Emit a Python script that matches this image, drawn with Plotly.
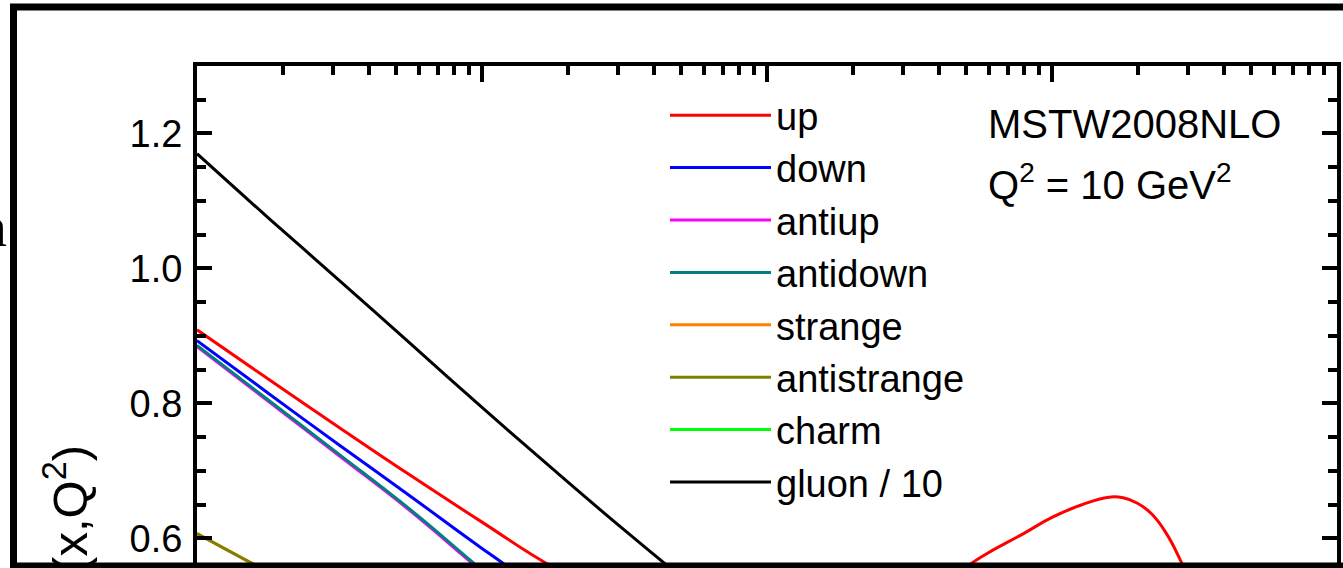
import plotly.graph_objects as go

# ---------------- data ----------------
x_grid = [0.0001, 0.0001778, 0.0003162, 0.0005623, 0.001, 0.001778, 0.003162,
          0.005623, 0.01, 0.03, 0.1, 0.3, 1.0]

gluon_over_10 = [1.170, 1.075, 0.982, 0.888, 0.794, 0.702, 0.612, 0.525, 0.440,
                 0.30, 0.16, 0.04, 0.0]
down = [0.893, 0.815, 0.738, 0.662, 0.585, 0.512, 0.445, 0.390, 0.345,
        0.31, 0.33, 0.25, 0.0]
antidown = [0.886, 0.805, 0.724, 0.642, 0.553, 0.468, 0.385, 0.310, 0.250,
            0.15, 0.07, 0.01, 0.0]
antiup = [0.884, 0.803, 0.722, 0.640, 0.551, 0.466, 0.383, 0.307, 0.246,
          0.145, 0.06, 0.008, 0.0]
strange = [0.607, 0.550, 0.495, 0.442, 0.392, 0.345, 0.300, 0.258, 0.220,
           0.13, 0.05, 0.01, 0.0]
antistrange = [0.607, 0.550, 0.495, 0.442, 0.392, 0.345, 0.300, 0.258, 0.220,
               0.13, 0.05, 0.01, 0.0]
charm = [0.450, 0.410, 0.365, 0.322, 0.280, 0.240, 0.200, 0.165, 0.130,
         0.06, 0.02, 0.002, 0.0]

x_up = [0.0001, 0.0001778, 0.0003162, 0.0005623, 0.001, 0.001778, 0.003162,
        0.005623, 0.01, 0.01778, 0.03162, 0.05623, 0.07943, 0.1, 0.1259,
        0.1585, 0.1778, 0.1995, 0.2239, 0.2512, 0.2818, 0.3162, 0.3981,
        0.5012, 1.0]
up = [0.909, 0.836, 0.764, 0.693, 0.624, 0.557, 0.505, 0.475, 0.462, 0.468,
      0.500, 0.572, 0.607, 0.631, 0.649, 0.661, 0.660, 0.652, 0.636, 0.608,
      0.568, 0.520, 0.410, 0.300, 0.0]

series = [
    ("up", x_up, up, "#FF0000"),
    ("down", x_grid, down, "#0000FF"),
    ("antiup", x_grid, antiup, "#FF00FF"),
    ("antidown", x_grid, antidown, "#008080"),
    ("strange", x_grid, strange, "#FF8000"),
    ("antistrange", x_grid, antistrange, "#808000"),
    ("charm", x_grid, charm, "#00FF00"),
    ("gluon / 10", x_grid, gluon_over_10, "#000000"),
]

y_ticks = [0.6, 0.8, 1.0, 1.2]
y_ticklabels = ["0.6", "0.8", "1.0", "1.2"]

# ---------------- figure ----------------
W, H = 1343, 568
L, R, T, B = 197, 6, 66, 0
PW, PH = W - L - R, H - T - B


def px(xp):
    return (xp - L) / PW


def py(yp):
    return (H - B - yp) / PH


FONT = "Arial, Liberation Sans, sans-serif"

fig = go.Figure()
for name, xs, ys, col in series:
    fig.add_trace(go.Scatter(x=xs, y=ys, mode="lines", name=name,
                             line=dict(color=col, width=3, shape="spline",
                                       smoothing=1.3)))

fig.update_layout(
    width=W, height=H,
    margin=dict(l=L, r=R, t=T, b=B, autoexpand=False),
    paper_bgcolor="white", plot_bgcolor="white",
    font=dict(family=FONT, color="black"),
    showlegend=True,
    legend=dict(x=px(665), y=py(84), xanchor="left", yanchor="top",
                font=dict(family=FONT, size=38, color="black"),
                bgcolor="rgba(0,0,0,0)", borderwidth=0,
                itemwidth=101, tracegroupgap=0),
    xaxis=dict(type="log", range=[-4, 0], side="top", showline=True,
               linecolor="black", linewidth=4, mirror=False,
               ticks="inside", ticklen=16, tickwidth=4, tickcolor="black",
               dtick=1, showticklabels=False, showgrid=False, zeroline=False,
               minor=dict(ticks="inside", ticklen=9, tickwidth=4,
                          tickcolor="black", dtick="D1", showgrid=False)),
    yaxis=dict(range=[0.556, 1.3], showline=True, linecolor="black",
               linewidth=4, mirror="ticks", ticks="inside", ticklen=15,
               tickwidth=4, tickcolor="black", tickvals=y_ticks,
               ticktext=y_ticklabels, showgrid=False, zeroline=False,
               ticklabelstandoff=3,
               tickfont=dict(family=FONT, size=38, color="black"),
               minor=dict(ticks="inside", ticklen=9, tickwidth=4,
                          tickcolor="black", dtick=0.05, tick0=0,
                          showgrid=False)),
)

# outer frame of the figure
fig.add_shape(type="rect", xref="paper", yref="paper",
              x0=px(13.5), x1=px(1365), y0=py(566), y1=py(7),
              line=dict(color="black", width=7), fillcolor="rgba(0,0,0,0)")

annotations = [
    dict(text="MSTW2008NLO", x=px(986), y=py(124), xanchor="left",
         yanchor="middle", font=dict(family=FONT, size=40)),
    dict(text="Q<sup>2</sup> = 10 GeV<sup>2</sup>", x=px(986), y=py(182),
         xanchor="left", yanchor="middle", font=dict(family=FONT, size=40)),
    dict(text="xf(x,Q<sup>2</sup>)", x=px(66), y=py(443), xanchor="center",
         yanchor="top", textangle=-90, font=dict(family=FONT, size=49)),
    dict(text="n", x=px(9), y=py(226), xanchor="right", yanchor="middle",
         font=dict(family="Liberation Serif, Times New Roman, serif", size=58)),
]
for a in annotations:
    fig.add_annotation(xref="paper", yref="paper", showarrow=False, **a)

fig.write_html("out.html",
               config={"displayModeBar": False},
               post_script="document.body.style.margin='0px';"
                           "document.body.style.overflow='hidden';")
